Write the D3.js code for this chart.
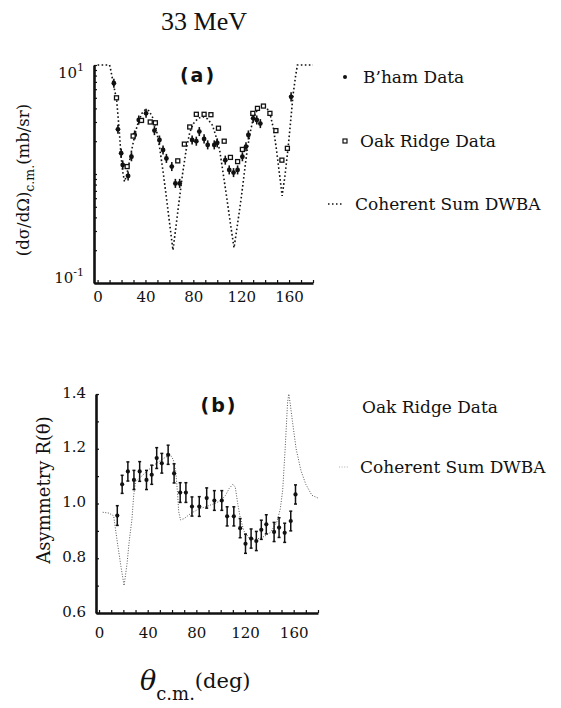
<!DOCTYPE html>
<html>
<head>
<meta charset="utf-8">
<script src="https://d3js.org/d3.v7.min.js"></script>
<style>
  body { margin: 0; background: #fff; }
  text { fill: #111; }
</style>
</head>
<body>
<script>
// ---- data ----
// (a) cross section, log scale (mb/sr)
var dwbaDeg = [0,10,11,13,16,18,19.5,21,22.5,24,26,28.5,30,32,34,37,40,43,46,49,52,55,58,60.5,63,65.5,68,71,74,77,80,84,88,92,96,99,102,105,108,111,114,117,120,122.5,125,127.5,130,134,138,141,144,147,149.5,152,154.2,156.5,159,161,163.5,165.5,167,180];
var dwbaVal = [10,10,9,6.9,4.7,2.6,1.5,1.05,0.85,0.95,1.2,1.66,2.0,2.5,3.0,3.6,3.9,3.8,3.3,2.6,1.7,1.0,0.55,0.33,0.2,0.33,0.55,1.0,1.66,2.4,2.9,3.25,3.35,3.2,2.8,2.2,1.66,1.0,0.6,0.35,0.21,0.35,0.6,1.0,1.66,2.4,3.2,4.0,4.3,4.1,3.6,2.6,1.66,1.0,0.63,0.95,1.66,2.8,5.5,8,10,10];

var bhamDeg = [13.6,17,19.7,21,25.5,28.3,31,34.4,40.5,47.5,51.7,54.7,57.5,62,65,68.6,79,82.5,85,89,92,97.5,100,106.7,110,113.6,117,121,124,126,130,133,136,161.7];
var bhamVal = [6.8,2.57,1.55,1.21,0.96,1.44,2.28,3.13,3.6,2.5,2.05,1.66,1.39,1.17,0.82,0.82,2.05,2.0,2.45,2.1,1.85,1.85,1.93,1.34,1.09,1.03,1.09,1.44,1.78,2.28,3.24,3.13,2.9,5.1];

var oakDeg = [15.8,24.7,29.7,36.7,44,48.3,67,72.5,77,82.5,89,94.7,101,105.8,111,117,121,129.7,133.6,138.6,144,149,154,158.6];
var oakVal = [5.0,1.17,2.23,3.1,3.0,2.95,1.32,1.88,2.7,3.53,3.53,3.5,2.63,2.0,1.42,1.3,1.68,3.6,4.0,4.2,3.6,2.5,1.34,1.72];

// (b) asymmetry
var asymDeg = [15,19,23.7,28.7,33.4,39,43.3,47.4,51.6,56.8,61.7,66.7,71.4,76.4,82.4,88.5,94.8,100.9,105.3,110.8,116,120.4,125,129.3,133.4,137.5,143.9,148,152.6,157.6,161.5];
var asymVal = [0.956,1.07,1.117,1.086,1.117,1.086,1.105,1.166,1.147,1.178,1.11,1.04,1.04,0.989,0.989,1.02,1.011,1.011,0.953,0.953,0.91,0.853,0.872,0.863,0.904,0.924,0.896,0.912,0.893,0.936,1.033];
var asymErr = [0.036,0.033,0.035,0.035,0.036,0.035,0.035,0.038,0.036,0.035,0.035,0.036,0.036,0.035,0.036,0.037,0.036,0.036,0.035,0.035,0.035,0.035,0.035,0.035,0.035,0.035,0.035,0.036,0.035,0.036,0.035];

var asymDwbaDeg = [3,8,12,15,18,20.6,23,25,27,28.5,30,35,40,45,50,55,59,61,63,64.5,65.5,67,70,75.5,82,89,95,100,104,107,110,112,114,116,119,124,130,136,141,146,149,151,153,155,156,157,159,162,166,170,175,180];
var asymDwbaVal = [0.968,0.965,0.955,0.86,0.77,0.7,0.78,0.87,0.94,1.03,1.08,1.1,1.12,1.14,1.155,1.17,1.175,1.16,1.12,1.04,0.97,0.94,0.945,0.964,0.98,0.99,1.0,1.01,1.03,1.055,1.07,1.06,1.0,0.95,0.9,0.87,0.87,0.88,0.895,0.93,0.98,1.05,1.2,1.37,1.4,1.37,1.3,1.2,1.12,1.07,1.03,1.02];

var xTickLabels = [0,40,80,120,160];
var asymTickLabels = [0.6,0.8,1.0,1.2,1.4];

var serif = "'DejaVu Serif', serif";

var svg = d3.select("body").append("svg")
  .attr("width", 561).attr("height", 708)
  .style("background", "#fff");

// title
svg.append("text").attr("x", 204).attr("y", 30)
  .attr("text-anchor", "middle")
  .style("font-family", "'Liberation Serif', serif").style("font-size", "26px")
  .text("33 MeV");

function styleAxis(g) {
  g.select(".domain").attr("stroke", "#111").attr("stroke-width", 2.6);
  g.selectAll(".tick line").attr("stroke", "#111").attr("stroke-width", 1.2);
  g.selectAll(".tick text").style("font-family", serif).style("font-size", "15px").attr("fill", "#111");
}

// ---------- panel (a) ----------
var xa = d3.scaleLinear().domain([-3, 180]).range([94, 313]);
var ya = d3.scaleLog().domain([0.1, 10]).range([283, 65]);

var minorTicks = [];
[0.1, 1].forEach(function (d) { for (var k = 1; k <= 9; k++) minorTicks.push(d * k); });
minorTicks.push(10);

svg.append("g").attr("transform", "translate(94,0)")
  .call(d3.axisLeft(ya).tickValues(minorTicks).tickSizeInner(-3).tickSizeOuter(0).tickFormat(""))
  .call(styleAxis);

svg.append("g").attr("transform", "translate(0,283)")
  .call(d3.axisBottom(xa).tickValues(d3.range(0, 181, 10)).tickSizeInner(-3).tickSizeOuter(0)
    .tickPadding(8).tickFormat(function (d) { return xTickLabels.indexOf(d) >= 0 ? d : ""; }))
  .call(styleAxis);

// log labels
[[10, "1", 13], [0.1, "-1", 0]].forEach(function (p) {
  var t = svg.append("text").attr("x", 84).attr("y", ya(p[0]) + p[2])
    .attr("text-anchor", "end")
    .style("font-family", serif).style("font-size", "15px");
  t.append("tspan").text("10");
  t.append("tspan").attr("dy", -7).style("font-size", "11px").text(p[1]);
});

// y label (a)
var yla = svg.append("text")
  .attr("transform", "translate(29,180) rotate(-90)")
  .attr("text-anchor", "middle")
  .style("font-family", serif).style("font-size", "16.5px");
yla.append("tspan").text("(d\u03C3/d\u03A9)");
yla.append("tspan").attr("dy", 5).style("font-size", "12.5px").text("c.m.");
yla.append("tspan").attr("dy", -5).text("(mb/sr)");

svg.append("text").attr("x", 198).attr("y", 82).attr("text-anchor", "middle")
  .style("font-family", "'DejaVu Sans', sans-serif").style("font-size", "19px")
  .style("font-weight", "bold").style("letter-spacing", "2px").text("(a)");

var lineA = d3.line().x(function (d) { return xa(d[0]); }).y(function (d) { return ya(d[1]); });
svg.append("path").datum(d3.zip(dwbaDeg, dwbaVal))
  .attr("d", lineA).attr("fill", "none").attr("stroke", "#111")
  .attr("stroke-width", 1.6).attr("stroke-dasharray", "1.6,2.4");

var bham = d3.zip(bhamDeg, bhamVal);
svg.append("g").selectAll("line").data(bham).join("line")
  .attr("x1", function (d) { return xa(d[0]); }).attr("x2", function (d) { return xa(d[0]); })
  .attr("y1", function (d) { return ya(d[1] * 1.1); }).attr("y2", function (d) { return ya(d[1] / 1.1); })
  .attr("stroke", "#111").attr("stroke-width", 1.6);
svg.append("g").selectAll("circle").data(bham).join("circle")
  .attr("cx", function (d) { return xa(d[0]); }).attr("cy", function (d) { return ya(d[1]); })
  .attr("r", 2.4).attr("fill", "#111");

svg.append("g").selectAll("rect").data(d3.zip(oakDeg, oakVal)).join("rect")
  .attr("x", function (d) { return xa(d[0]) - 2; }).attr("y", function (d) { return ya(d[1]) - 2; })
  .attr("width", 4).attr("height", 4)
  .attr("fill", "#fff").attr("stroke", "#111").attr("stroke-width", 1.3);

// legend (a)
var legFont = function (s) { return s.style("font-family", serif).style("font-size", "17px"); };
svg.append("circle").attr("cx", 345).attr("cy", 77).attr("r", 2).attr("fill", "#111");
svg.append("text").attr("x", 363).attr("y", 83).call(legFont).text("B\u2019ham Data");
svg.append("rect").attr("x", 343).attr("y", 139).attr("width", 4).attr("height", 4)
  .attr("fill", "#fff").attr("stroke", "#111").attr("stroke-width", 1.2);
svg.append("text").attr("x", 360).attr("y", 147).call(legFont).text("Oak Ridge Data");
svg.append("line").attr("x1", 328).attr("x2", 344).attr("y1", 204).attr("y2", 204)
  .attr("stroke", "#111").attr("stroke-width", 1.3).attr("stroke-dasharray", "1.5,2.5");
svg.append("text").attr("x", 355).attr("y", 210).call(legFont).text("Coherent Sum DWBA");

// ---------- panel (b) ----------
var xb = d3.scaleLinear().domain([-2.5, 180]).range([96, 318]);
var yb = d3.scaleLinear().domain([0.6, 1.4]).range([613, 394]);

svg.append("g").attr("transform", "translate(96,0)")
  .call(d3.axisLeft(yb).tickValues(d3.range(6, 15).map(function (d) { return d / 10; }))
    .tickSizeInner(-3).tickSizeOuter(0).tickPadding(10)
    .tickFormat(function (d) {
      var hit = asymTickLabels.filter(function (v) { return Math.abs(v - d) < 1e-6; });
      return hit.length ? d3.format(".1f")(d) : "";
    }))
  .call(styleAxis)
  .call(function (g) { g.selectAll(".tick text").attr("dy", "0.2em"); });

svg.append("g").attr("transform", "translate(0,613)")
  .call(d3.axisBottom(xb).tickValues(d3.range(0, 181, 10)).tickSizeInner(-3).tickSizeOuter(0)
    .tickPadding(14).tickFormat(function (d) { return xTickLabels.indexOf(d) >= 0 ? d : ""; }))
  .call(styleAxis);

svg.append("text").attr("transform", "translate(50,490) rotate(-90)")
  .attr("text-anchor", "middle")
  .style("font-family", serif).style("font-size", "18px")
  .text("Asymmetry R(\u03B8)");

svg.append("text").attr("x", 219).attr("y", 412).attr("text-anchor", "middle")
  .style("font-family", "'DejaVu Sans', sans-serif").style("font-size", "19px")
  .style("font-weight", "bold").style("letter-spacing", "2px").text("(b)");

var lineB = d3.line().x(function (d) { return xb(d[0]); }).y(function (d) { return yb(d[1]); });
svg.append("path").datum(d3.zip(asymDwbaDeg, asymDwbaVal))
  .attr("d", lineB).attr("fill", "none").attr("stroke", "#555")
  .attr("stroke-width", 1).attr("stroke-dasharray", "1,1.6");

var asym = d3.zip(asymDeg, asymVal, asymErr);
var eb = svg.append("g").attr("stroke", "#111").attr("stroke-width", 1.5);
eb.selectAll("line.v").data(asym).join("line").attr("class", "v")
  .attr("x1", function (d) { return xb(d[0]); }).attr("x2", function (d) { return xb(d[0]); })
  .attr("y1", function (d) { return yb(d[1] + d[2]); }).attr("y2", function (d) { return yb(d[1] - d[2]); });
eb.selectAll("line.t").data(asym).join("line").attr("class", "t")
  .attr("x1", function (d) { return xb(d[0]) - 1.5; }).attr("x2", function (d) { return xb(d[0]) + 1.5; })
  .attr("y1", function (d) { return yb(d[1] + d[2]); }).attr("y2", function (d) { return yb(d[1] + d[2]); });
eb.selectAll("line.b").data(asym).join("line").attr("class", "b")
  .attr("x1", function (d) { return xb(d[0]) - 1.5; }).attr("x2", function (d) { return xb(d[0]) + 1.5; })
  .attr("y1", function (d) { return yb(d[1] - d[2]); }).attr("y2", function (d) { return yb(d[1] - d[2]); });
svg.append("g").selectAll("circle").data(asym).join("circle")
  .attr("cx", function (d) { return xb(d[0]); }).attr("cy", function (d) { return yb(d[1]); })
  .attr("r", 2.1).attr("fill", "#111");

// legend (b)
svg.append("text").attr("x", 362).attr("y", 413).call(legFont).text("Oak Ridge Data");
svg.append("line").attr("x1", 339).attr("x2", 348).attr("y1", 467).attr("y2", 467)
  .attr("stroke", "#999").attr("stroke-width", 0.8).attr("stroke-dasharray", "1,1.6");
svg.append("text").attr("x", 360).attr("y", 473).call(legFont).text("Coherent Sum DWBA");

// x label
var xl = svg.append("text").attr("x", 140).attr("y", 690)
  .style("font-family", serif);
xl.append("tspan").style("font-size", "27px").style("font-style", "italic").text("\u03B8");
xl.append("tspan").attr("dy", 10).style("font-size", "18px").text("c.m.");
xl.append("tspan").attr("dy", -12).style("font-size", "21px").text("(deg)");
</script>
</body>
</html>
